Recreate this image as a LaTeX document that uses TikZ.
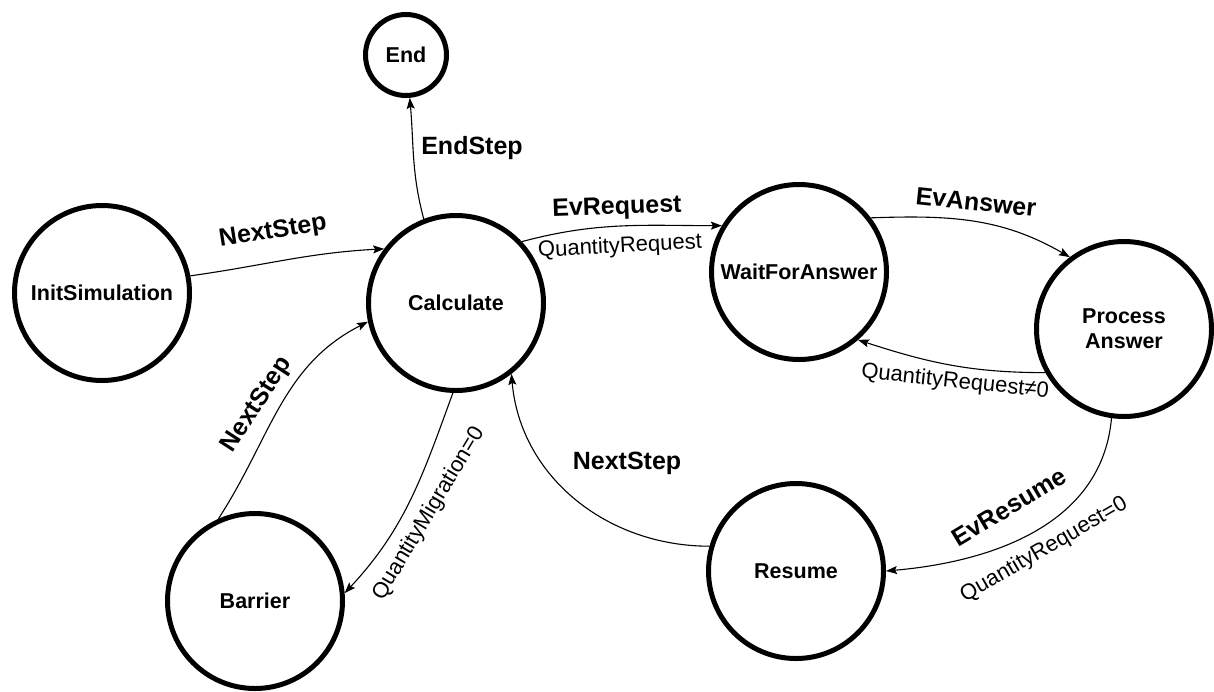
\documentclass[tikz,border=0pt]{standalone}
\usepackage{fontspec}
\setmainfont{Liberation Sans}
\usetikzlibrary{arrows.meta}
\tikzset{
  statenode/.style={circle, draw, line width=5pt, minimum size=175pt, inner sep=0pt,
    font=\bfseries\fontsize{21.5}{25}\selectfont, align=center},
  smallstate/.style={statenode, minimum size=81pt},
  conn/.style={-{Stealth[length=11pt,width=8pt,inset=2pt]}, line width=1.1pt},
  evlabel/.style={font=\bfseries\fontsize{25}{28}\selectfont, inner sep=0pt},
  condlabel/.style={font=\fontsize{22}{25}\selectfont, inner sep=0pt}
}
\begin{document}
\begin{tikzpicture}[x=1pt,y=1pt]
\useasboundingbox (0,0) rectangle (1214,-691);

% states
\node[smallstate] (end)     at (406,-55)   {End};
\node[statenode]  (init)    at (102,-293)  {InitSimulation};
\node[statenode]  (calc)    at (456,-303)  {Calculate};
\node[statenode]  (wait)    at (799,-272)  {WaitForAnswer};
\node[statenode]  (proc)    at (1124,-329) {Process\\Answer};
\node[statenode]  (barrier) at (255,-601)  {Barrier};
\node[statenode]  (resume)  at (796,-571)  {Resume};

% transitions
\draw[conn] (init.11)    to[out=8,in=183]    (calc.143);
\draw[conn] (calc.111)   to[out=105,in=-85]  (end.-85);
\draw[conn] (calc.43)    to[out=15,in=180]   (wait.149);
\draw[conn] (wait.37)    to[out=2,in=150]    (proc.127);
\draw[conn] (proc.209)   to[out=180,in=-18]  (wait.-49);
\draw[conn] (proc.-98)   to[out=-95,in=5]    (resume.0);
\draw[conn] (resume.164) to[out=180,in=-85]  (calc.-52);
\draw[conn] (calc.-92)   to[out=-110,in=47]  (barrier.5);
\draw[conn] (barrier.114) to[out=57,in=-153] (calc.192);

% transition labels
\node[evlabel, rotate=9]    (l1) at (273,-232) {NextStep};
\node[evlabel]              (l2) at (472,-148) {EndStep};
\node[evlabel, rotate=2]    (l3) at (617,-208) {EvRequest};
\node[condlabel, rotate=3]  (l4) at (620,-247) {QuantityRequest};
\node[evlabel, rotate=-6]   (l5) at (976,-202) {EvAnswer};
\node[condlabel, rotate=-6] (l6) at (955,-382) {QuantityRequest≠0};
\node[evlabel, rotate=31]   (l7) at (1009,-507) {EvResume};
\node[condlabel, rotate=30] (l8) at (1044,-550) {QuantityRequest=0};
\node[evlabel]              (l9) at (627,-463) {NextStep};
\node[condlabel, rotate=59] (l10) at (429,-514) {QuantityMigration=0};
\node[evlabel, rotate=57]   (l11) at (257,-405) {NextStep};
\end{tikzpicture}
\end{document}
